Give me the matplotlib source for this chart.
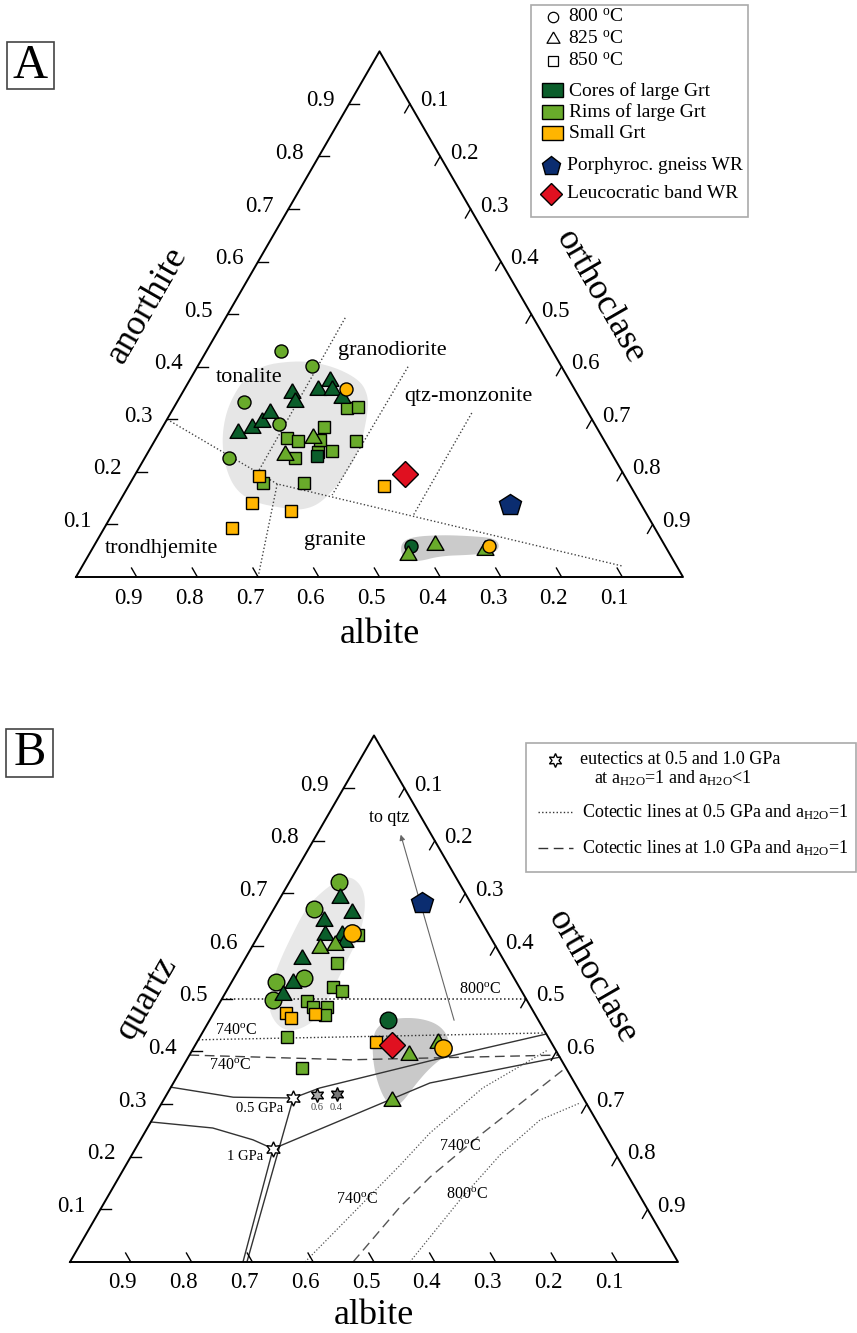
import numpy as np
import matplotlib.pyplot as plt
from matplotlib.patches import Polygon, Rectangle

plt.rcParams['font.family'] = ['Liberation Serif', 'DejaVu Serif']
plt.rcParams['mathtext.fontset'] = 'custom'
plt.rcParams['mathtext.rm'] = 'Liberation Serif'
plt.rcParams['mathtext.it'] = 'Liberation Serif:italic'

CORE = '#0b5e2b'
RIM = '#69ab2b'
SMALL = '#ffb500'
GNEISS = '#0b2d70'
LEUCO = '#e01020'
TRI_M = [(0, 1), (-0.866, -0.5), (0.866, -0.5), (0, 1)]

ticks = [0.1, 0.2, 0.3, 0.4, 0.5, 0.6, 0.7, 0.8, 0.9]

# ---- panel A: (albite, anorthite), orthoclase = 1 - ab - an
a_cores_800 = [(0.419, 0.059)]
a_cores_825 = [(0.395, 0.373), (0.423, 0.356), (0.400, 0.356), (0.392, 0.341),
               (0.469, 0.350), (0.473, 0.333), (0.596, 0.274), (0.568, 0.283),
               (0.546, 0.295), (0.524, 0.312)]
a_cores_850 = [(0.488, 0.230)]
a_rims_800 = [(0.447, 0.430), (0.410, 0.401), (0.557, 0.333), (0.520, 0.291),
              (0.635, 0.226)]
a_rims_825 = [(0.478, 0.264), (0.540, 0.232), (0.432, 0.042), (0.378, 0.061),
              (0.300, 0.051)]
a_rims_850 = [(0.393, 0.321), (0.374, 0.323), (0.449, 0.285), (0.410, 0.259),
              (0.520, 0.264), (0.505, 0.259), (0.482, 0.238), (0.458, 0.240),
              (0.526, 0.226), (0.535, 0.179), (0.603, 0.179), (0.468, 0.261)]
a_small_800 = [(0.376, 0.358), (0.290, 0.059)]
a_small_850 = [(0.603, 0.192), (0.640, 0.141), (0.583, 0.126), (0.697, 0.093),
               (0.406, 0.173)]
a_gneiss = [(0.217, 0.137)]
a_leuco = [(0.360, 0.196)]

# field boundaries (Barker) and shaded fields
a_bound_main = [(0.70, 0.30), (0.58, 0.177), (0.09, 0.021)]
a_bound_ton_gd = [(0.31, 0.493), (0.60, 0.20)]
a_bound_tr_gr = [(0.58, 0.177), (0.70, 0.0)]
a_bound_gd_qm = [(0.253, 0.40), (0.50, 0.156)]
a_bound_qm_gr = [(0.192, 0.312), (0.387, 0.116)]
a_field_big = [(0.623, 0.274), (0.578, 0.337), (0.508, 0.400), (0.425, 0.413),
               (0.376, 0.401), (0.345, 0.375), (0.346, 0.346), (0.362, 0.314),
               (0.411, 0.242), (0.460, 0.194), (0.494, 0.165), (0.533, 0.137),
               (0.567, 0.127), (0.593, 0.131), (0.634, 0.141), (0.655, 0.165),
               (0.649, 0.213)]
a_field_low = [(0.436, 0.061), (0.412, 0.076), (0.360, 0.080), (0.312, 0.078),
               (0.273, 0.074), (0.272, 0.059), (0.287, 0.046), (0.330, 0.042),
               (0.380, 0.040), (0.422, 0.029), (0.445, 0.032)]

# ---- panel B: (albite, quartz), orthoclase = 1 - ab - qz
b_cores_800 = [(0.247, 0.460)]
b_cores_825 = [(0.2105, 0.691), (0.2045, 0.663), (0.258, 0.648), (0.2705, 0.621),
               (0.2425, 0.621), (0.244, 0.608), (0.330, 0.5755), (0.368, 0.530),
               (0.3965, 0.507)]
b_rims_800 = [(0.197, 0.722), (0.264, 0.670), (0.3455, 0.539), (0.395, 0.532),
              (0.417, 0.498)]
b_rims_825 = [(0.291, 0.596), (0.263, 0.602), (0.2455, 0.393), (0.317, 0.306),
              (0.187, 0.416)]
b_rims_850 = [(0.2155, 0.621), (0.277, 0.568), (0.306, 0.522), (0.2955, 0.515),
              (0.362, 0.496), (0.335, 0.484), (0.3465, 0.469), (0.4295, 0.427),
              (0.434, 0.3685), (0.358, 0.484)]
b_small_800 = [(0.2235, 0.625), (0.184, 0.406)]
b_small_850 = [(0.4085, 0.473), (0.4045, 0.4635), (0.3615, 0.471), (0.288, 0.418)]
b_gneiss = [(0.080, 0.682)]
b_leuco = [(0.264, 0.412)]
b_eut_pure = [(0.477, 0.3115), (0.5585, 0.215)]
b_eut_06 = [(0.4355, 0.317)]
b_eut_04 = [(0.4015, 0.319)]

b_dot_800 = [(0.5, 0.5), (0.0, 0.5)]
b_dot_740 = [(0.578, 0.422), (0.0, 0.435)]
b_dash_740 = [(0.607, 0.393), (0.3475, 0.384), (0.0, 0.393)]
b_cot_05_left = [(0.668, 0.332), (0.575, 0.313), (0.477, 0.3115)]
b_cot_05_right = [(0.477, 0.3115), (0.424, 0.3305), (0.217, 0.382), (0.0, 0.433)]
b_cot_10_left = [(0.734, 0.266), (0.638, 0.2545), (0.583, 0.232), (0.5585, 0.215)]
b_cot_10_right = [(0.5585, 0.215), (0.238, 0.340), (0.0, 0.389)]
b_cot_05_base = [(0.477, 0.3115), (0.709, 0.0)]
b_cot_10_base = [(0.5585, 0.215), (0.7155, 0.0)]
b_iso_740_05 = [(0.6135, 0.0), (0.365, 0.184), (0.2855, 0.245), (0.156, 0.3305),
                (0.0127, 0.4027)]
b_iso_740_10 = [(0.5345, 0.0), (0.405, 0.1045), (0.327, 0.1614), (0.1985, 0.245),
                (0.0068, 0.3647)]
b_iso_800_05 = [(0.441, 0.0), (0.2997, 0.1178), (0.1912, 0.2032), (0.0921, 0.2697),
                (0.0102, 0.302)]
b_to_qtz = [(0.14, 0.454), (0.049, 0.8167)]
b_field_long = [(0.2144, 0.716), (0.1755, 0.735), (0.162, 0.716), (0.174, 0.678),
                (0.2125, 0.621), (0.266, 0.564), (0.3185, 0.507), (0.360, 0.4635),
                (0.402, 0.4405), (0.431, 0.4405), (0.4365, 0.469), (0.4205, 0.507),
                (0.376, 0.564), (0.3245, 0.621), (0.270, 0.678)]
b_field_right = [(0.2925, 0.4217), (0.2684, 0.450), (0.2338, 0.4634), (0.1926, 0.4634),
                 (0.1664, 0.450), (0.1642, 0.4217), (0.185, 0.3932), (0.224, 0.3685),
                 (0.2646, 0.336), (0.303, 0.302), (0.3244, 0.2925), (0.3285, 0.317),
                 (0.3177, 0.3647)]

TRI_A = (76, 577, 607)
TRI_B = (70, 1262, 608)

fig = plt.figure(figsize=(8.57, 13.33), dpi=100)
ax = fig.add_axes([0, 0, 1, 1])
ax.set_xlim(0, 857)
ax.set_ylim(1333, 0)
ax.axis('off')


def tern(tri, ab, top):
    x0, y0, w = tri
    ab = np.asarray(ab, float)
    top = np.asarray(top, float)
    return x0 + w * (1 - ab - top / 2), y0 - w * np.sqrt(3) / 2 * top


def pts(tri, pairs):
    arr = np.array(pairs, float)
    return tern(tri, arr[:, 0], arr[:, 1])


def smooth(x, y, n=3):
    p = np.column_stack([x, y])
    for _ in range(n):
        nx = np.roll(p, -1, axis=0)
        q = np.empty((2 * len(p), 2))
        q[0::2] = 0.75 * p + 0.25 * nx
        q[1::2] = 0.25 * p + 0.75 * nx
        p = q
    return p


def field(tri, pairs, color):
    x, y = pts(tri, pairs)
    ax.add_patch(Polygon(smooth(x, y), closed=True, fc=color, ec='none', zorder=1))


def line(tri, pairs, ls='-', lw=1.0, color='#333333'):
    x, y = pts(tri, pairs)
    ax.plot(x, y, ls=ls, lw=lw, color=color, zorder=2)


def mark(tri, pairs, marker, ms, fc, z=6):
    x, y = pts(tri, pairs)
    ax.plot(x, y, ls='none', marker=marker, ms=ms, mfc=fc, mec='black', mew=1,
            zorder=z)


def frame(tri):
    x, y = tern(tri, [1, 0, 0, 1], [0, 0, 1, 0])
    ax.plot(x, y, color='black', lw=1.4, zorder=5)
    for v in ticks:
        bx, by = tern(tri, [v, v], [0, 0.017])
        ax.plot(bx, by, color='black', lw=1, zorder=5)
        ax.text(bx[0] - 8, by[0] + 21, f'{v:.1f}', ha='center', va='center', fontsize=16.5)
        lx, ly = tern(tri, [1 - v, 1 - v - 0.017], [v, v])
        ax.plot(lx, ly, color='black', lw=1, zorder=5)
        ax.text(lx[0] - 29, ly[0] - 3, f'{v:.1f}', ha='center', va='center', fontsize=16.5)
        rx, ry = tern(tri, [0, 0.017], [1 - v, 1 - v - 0.017])
        ax.plot(rx, ry, color='black', lw=1, zorder=5)
        ax.text(rx[0] + 24, ry[0] - 3, f'{v:.1f}', ha='center', va='center', fontsize=16.5)


DOT = (0, (1, 1.6))
DASH = (0, (7, 4))

# ================= panel A =================
field(TRI_A, a_field_big, '#e6e6e6')
field(TRI_A, a_field_low, '#cbcbcb')
for b in [a_bound_main, a_bound_ton_gd, a_bound_tr_gr, a_bound_gd_qm, a_bound_qm_gr]:
    line(TRI_A, b, ls=DOT, lw=1.0, color='#444444')
frame(TRI_A)

mark(TRI_A, a_rims_850, 's', 8.8, RIM)
mark(TRI_A, a_cores_850, 's', 8.8, CORE)
mark(TRI_A, a_small_850, 's', 8.8, SMALL)
mark(TRI_A, a_rims_800, 'o', 9.4, RIM, z=7)
mark(TRI_A, a_cores_825, TRI_M, 14, CORE, z=7)
mark(TRI_A, a_rims_825, TRI_M, 14, RIM, z=7)
mark(TRI_A, a_cores_800, 'o', 9.4, CORE, z=6)
mark(TRI_A, a_small_800, 'o', 9.4, SMALL, z=8)
mark(TRI_A, a_leuco, 'D', 13.7, LEUCO, z=9)
mark(TRI_A, a_gneiss, 'p', 16.5, GNEISS, z=9)

for txt, xy in [('tonalite', (249, 377)), ('granodiorite', (392, 350)),
                ('qtz-monzonite', (468, 397)), ('trondhjemite', (162, 548)),
                ('granite', (335, 541))]:
    ax.text(*xy, txt, ha='center', va='center', fontsize=16)

ax.text(148, 305, 'anorthite', rotation=60, rotation_mode='anchor',
        ha='center', va='center', fontsize=26)
ax.text(600, 297, 'orthoclase', rotation=-60, rotation_mode='anchor',
        ha='center', va='center', fontsize=26)
ax.text(380, 643, 'albite', ha='center', va='baseline', fontsize=26)

ax.add_patch(Rectangle((7, 42), 47, 47, fc='white', ec='#444444', lw=1.2))
ax.text(30.5, 66, 'A', ha='center', va='center', fontsize=35)

# legend A
ax.add_patch(Rectangle((531, 5), 217, 212, fc='white', ec='#aaaaaa', lw=1.2, zorder=10))
for yy, m, ms, t in [(17, 'o', 7.5, '800 $^{\\rm o}$C'), (39, TRI_M, 10.8, '825 $^{\\rm o}$C'),
                     (61, 's', 6.5, '850 $^{\\rm o}$C')]:
    ax.plot([553], [yy], marker=m, ms=ms, mfc='white', mec='black', mew=0.9, zorder=11)
    ax.text(568, yy, t, ha='left', va='center', fontsize=14, zorder=11)
for yy, c, t in [(90, CORE, 'Cores of large Grt'), (111.5, RIM, 'Rims of large Grt'),
                 (133, SMALL, 'Small Grt')]:
    ax.add_patch(Rectangle((542, yy - 7), 21, 14, fc=c, ec='black', lw=1, zorder=11))
    ax.text(569, yy + 1, t, ha='left', va='center', fontsize=14, zorder=11)
ax.plot([551], [166], marker='p', ms=13.8, mfc=GNEISS, mec='black', mew=1, zorder=11)
ax.text(567, 166, 'Porphyroc. gneiss WR', ha='left', va='center', fontsize=14, zorder=11)
ax.plot([551], [194], marker='D', ms=11.7, mfc=LEUCO, mec='black', mew=1, zorder=11)
ax.text(567, 194, 'Leucocratic band WR', ha='left', va='center', fontsize=14, zorder=11)

# ================= panel B =================
field(TRI_B, b_field_long, '#e8e8e8')
field(TRI_B, b_field_right, '#c9c9c9')
line(TRI_B, b_dot_800, ls=DOT, lw=1.1, color='#222222')
line(TRI_B, b_dot_740, ls=DOT, lw=1.0, color='#333333')
line(TRI_B, b_dash_740, ls=DASH, lw=1.0, color='#444444')
for b in [b_cot_05_left, b_cot_05_right, b_cot_10_left, b_cot_10_right,
          b_cot_05_base, b_cot_10_base]:
    line(TRI_B, b, lw=1.0, color='#333333')
line(TRI_B, b_iso_740_05, ls=DOT, lw=0.9, color='#555555')
line(TRI_B, b_iso_800_05, ls=DOT, lw=0.9, color='#555555')
line(TRI_B, b_iso_740_10, ls=DASH, lw=1.0, color='#555555')
qx, qy = pts(TRI_B, b_to_qtz)
ax.annotate('', xy=(qx[1], qy[1]), xytext=(qx[0], qy[0]),
            arrowprops=dict(arrowstyle='-|>', color='#666666', lw=0.8, mutation_scale=8),
            zorder=2)
frame(TRI_B)

mark(TRI_B, b_rims_850, 's', 8.8, RIM)
mark(TRI_B, b_small_850, 's', 8.8, SMALL)
mark(TRI_B, b_rims_800, 'o', 12, RIM, z=7)
mark(TRI_B, b_cores_825, TRI_M, 14, CORE, z=7)
mark(TRI_B, b_rims_825, TRI_M, 14, RIM, z=7)
mark(TRI_B, b_cores_800, 'o', 12, CORE, z=8)
mark(TRI_B, b_small_800, 'o', 12.5, SMALL, z=8)
mark(TRI_B, b_leuco, 'D', 13, LEUCO, z=9)
mark(TRI_B, b_gneiss, 'p', 16.5, GNEISS, z=9)
mark(TRI_B, b_eut_pure, (6, 1, 0), 11, 'white', z=9)
mark(TRI_B, b_eut_06, (6, 1, 0), 10, '#aaaaaa', z=9)
mark(TRI_B, b_eut_04, (6, 1, 0), 10, '#777777', z=9)

deg = '$^{\\rm o}$C'
for txt, xy, fs in [('740' + deg, (236, 1031), 11.5), ('740' + deg, (230, 1066), 11.5),
                    ('800' + deg, (480, 990), 11.5), ('740' + deg, (357, 1200), 11.5),
                    ('740' + deg, (460, 1147), 11.5), ('800' + deg, (467, 1195), 11.5),
                    ('0.5 GPa', (260, 1108), 10.5), ('1 GPa', (245, 1156), 10.5),
                    ('to qtz', (389, 818), 13)]:
    ax.text(*xy, txt, ha='center', va='center', fontsize=fs, zorder=4)
ax.text(317, 1107, '0.6', ha='center', va='center', fontsize=7.5, color='#444444')
ax.text(336, 1107, '0.4', ha='center', va='center', fontsize=7.5, color='#444444')

ax.text(147, 998, 'quartz', rotation=60, rotation_mode='anchor',
        ha='center', va='center', fontsize=26)
ax.text(592, 977, 'orthoclase', rotation=-60, rotation_mode='anchor',
        ha='center', va='center', fontsize=26)
ax.text(374, 1324, 'albite', ha='center', va='baseline', fontsize=26)

ax.add_patch(Rectangle((6, 729), 47, 48, fc='white', ec='#444444', lw=1.2))
ax.text(29.5, 753, 'B', ha='center', va='center', fontsize=35)

# legend B
ax.add_patch(Rectangle((526, 743), 330, 129, fc='white', ec='#aaaaaa', lw=1.2, zorder=10))
ax.plot([555], [760], marker=(6, 1, 0), ms=10, mfc='white', mec='black', mew=1, zorder=11)
ax.text(580, 760, 'eutectics at 0.5 and 1.0 GPa', ha='left', va='center', fontsize=13,
        zorder=11)
ax.text(594, 778, 'at a$_{\\rm H2O}$=1 and a$_{\\rm H2O}$<1', ha='left', va='center',
        fontsize=13, zorder=11)
ax.plot([538, 573], [812, 812], ls=DOT, lw=1.0, color='#333333', zorder=11)
ax.text(582, 812, 'Cotectic lines at 0.5 GPa and a$_{\\rm H2O}$=1', ha='left',
        va='center', fontsize=13, zorder=11)
ax.plot([538, 573], [848, 848], ls=DASH, lw=1.0, color='#333333', zorder=11)
ax.text(582, 848, 'Cotectic lines at 1.0 GPa and a$_{\\rm H2O}$=1', ha='left',
        va='center', fontsize=13, zorder=11)

fig.savefig('out.png', dpi=100)
